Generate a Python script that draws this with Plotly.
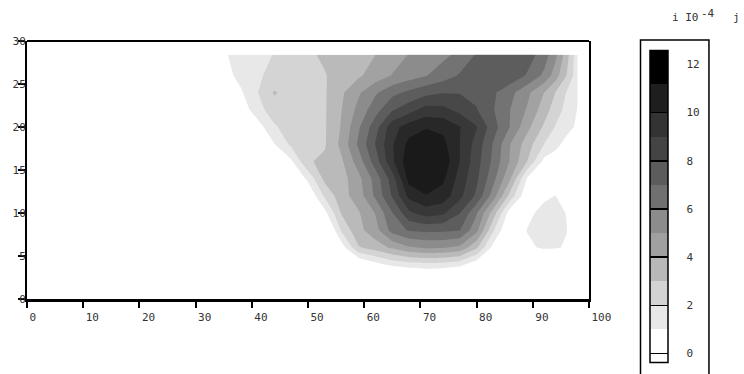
import plotly.graph_objects as go

# ---- data (values in units of 1e-4) ----
x_vals = [35, 38, 41, 44, 47, 50, 53, 56, 59, 62, 65, 68, 71, 74, 77, 80, 83, 86, 89, 92, 94, 96, 98]
y_vals = [3, 4, 6, 8, 10, 12, 14, 16, 18, 20, 22, 24, 26, 28.4]

z_y3 = [-1, -1, -1, -1, -1, -1, -1, -1, -1, -1, -0.4, 0.1, 0.3, 0.2, 0.0, -0.5, -1, -1, -1, -1, -1, -1, -1]
z_y4 = [-1, -1, -1, -1, -1, -1, -1, -1, -0.2, 0.6, 1.3, 1.55, 1.7, 1.6, 1.3, 0.3, -0.5, -1, -1, -1, -1, -1, -1]
z_y6 = [-1, -1, -1, -1, -1, -1, -1, 0.5, 2.9, 3.5, 4.2, 4.9, 5.15, 5.1, 4.8, 3.2, 0.6, -0.5, 0.75, 1.2, 1.15, 0.85, 0]
z_y8 = [-1, -1, -1, -1, -1, -1, -0.8, 2.2, 3.7, 4.6, 6.4, 7.1, 7.25, 7.2, 7.05, 5.3, 2.1, -0.3, 1.05, 1.6, 1.55, 1.05, 0]
z_y10 = [-1, -1, -1, -1, -1, -0.5, 0.7, 3.1, 3.9, 5.05, 6.95, 8.8, 9.45, 9.2, 8.05, 6.1, 3.5, 0.4, 0.6, 1.5, 1.5, 0.95, 0]
z_y12 = [-1, -1, -1, -1, -1, 0.0, 2.2, 3.6, 4.5, 6.2, 8.1, 10.3, 10.95, 10.6, 9.3, 7.8, 5.5, 2.6, 0.2, 0.7, 1.02, 0.5, 0]
z_y14 = [-1, -1, -1, -1, -0.3, 1.25, 3.3, 3.6, 4.7, 6.4, 8.5, 11.4, 11.9, 11.2, 9.6, 8.2, 6.3, 4.1, 0.9, 0.2, 0.2, 0.1, 0]
z_y16 = [-1, -1, -1, -1, 0.8, 2.9, 3.2, 3.85, 5.5, 7.5, 9.8, 11.7, 12.3, 11.7, 10.0, 8.4, 6.75, 4.9, 3.0, 0.7, 0.3, 0.2, 0.1]
z_y18 = [-1, -1, -1, 0.95, 2.2, 2.7, 2.9, 4.3, 6.2, 8.05, 9.9, 11.3, 11.9, 11.3, 10.0, 8.6, 6.9, 5.0, 3.5, 2.0, 1.4, 0.6, 0.4]
z_y20 = [-1, -1, 0.5, 1.85, 2.55, 2.8, 2.9, 4.1, 5.85, 7.6, 9.6, 10.5, 10.9, 10.75, 10.05, 9.05, 7.4, 5.95, 4.3, 2.85, 1.95, 1.4, 0.8]
z_y22 = [-1, 0.3, 1.6, 2.55, 2.65, 2.8, 2.9, 4.0, 5.3, 6.6, 7.9, 8.6, 9.4, 9.3, 8.7, 8.05, 7.05, 6.0, 4.9, 3.5, 2.5, 1.7, 0.95]
z_y24 = [0.2, 0.85, 1.95, 3.1, 2.6, 2.75, 2.9, 3.85, 4.85, 5.85, 6.7, 7.25, 7.7, 7.95, 7.95, 7.8, 7.15, 6.3, 5.25, 4.0, 3.0, 1.95, 1.05]
z_y26 = [0.6, 1.3, 1.85, 2.3, 2.55, 2.75, 2.95, 3.35, 3.85, 4.45, 5.05, 5.5, 5.95, 6.5, 7.1, 7.6, 7.85, 7.7, 6.9, 5.8, 4.5, 3.0, 1.3]
z_y28 = [0.9, 1.3, 1.6, 2.05, 2.45, 2.85, 3.15, 3.45, 3.7, 4.0, 4.5, 5.05, 5.4, 5.75, 6.25, 7.1, 7.5, 7.8, 7.5, 6.5, 5.3, 3.5, 1.2]

z_rows = [z_y3, z_y4, z_y6, z_y8, z_y10, z_y12, z_y14, z_y16, z_y18, z_y20, z_y22, z_y24, z_y26, z_y28]

x_ticks = [0, 10, 20, 30, 40, 50, 60, 70, 80, 90, 100]
y_ticks = [0, 5, 10, 15, 20, 25, 30]
cb_ticks = [0, 2, 4, 6, 8, 10, 12]

# ---- styles ----
plot_cols = ['#ffffff', '#e8e8e8', '#d4d4d4', '#bababa', '#a2a2a2', '#8c8c8c',
             '#737373', '#5d5d5d', '#484848', '#383838', '#282828', '#1a1a1a']
plot_scale = []
for i, c in enumerate(plot_cols):
    plot_scale.append([i / 12, c])
    plot_scale.append([(i + 1) / 12, c])

cb_edges = [-0.35, 1, 2, 3, 4, 5, 6, 7, 8, 9, 10, 11.2, 12.6]
cb_cols = ['#ffffff', '#e8e8e8', '#d3d3d3', '#b8b8b8', '#a0a0a0', '#8c8c8c',
           '#707070', '#5c5c5c', '#444444', '#333333', '#1e1e1e', '#000000']
lo, hi = cb_edges[0], cb_edges[-1]
half = 0.035  # half-width of the black tick stripes inside the bar
stripes = cb_ticks[:-1]
pieces = []
for i, c in enumerate(cb_cols):
    a, b = cb_edges[i], cb_edges[i + 1]
    cur = a
    for s in stripes:
        s0, s1 = max(s - half, a), min(s + half, b)
        if s1 <= a or s0 >= b:
            continue
        if s0 > cur:
            pieces.append((cur, s0, c))
        pieces.append((s0, s1, '#000000'))
        cur = s1
    if cur < b:
        pieces.append((cur, b, c))
cb_scale = []
for p0, p1, c in pieces:
    cb_scale.append([(p0 - lo) / (hi - lo), c])
    cb_scale.append([(p1 - lo) / (hi - lo), c])
cb_scale[0][0] = 0.0
cb_scale[-1][0] = 1.0

FONT = 'DejaVu Sans Mono'
TXT = '#333333'

# plot area: x 27..589 px, y 41..299 px
PL, PW, PT, PH = 27, 562, 41, 258


def px_x(px):
    return (px - PL) / PW


def px_y(py):
    return (PT + PH - py) / PH


fig = go.Figure()
fig.add_trace(go.Contour(
    x=x_vals, y=y_vals, z=z_rows,
    zmin=0, zmax=12, zauto=False,
    colorscale=plot_scale,
    contours=dict(start=1, end=11, size=1, coloring='fill', showlines=False),
    line=dict(width=0, smoothing=0),
    showscale=False, hoverinfo='skip',
))

fig.add_trace(go.Scatter(
    x=[None], y=[None], mode='markers', showlegend=False, hoverinfo='skip',
    marker=dict(color=[0], colorscale=cb_scale, cmin=lo, cmax=hi, showscale=True,
                colorbar=dict(
                    x=px_x(641.5), xanchor='left',
                    y=px_y(39.5), yanchor='top',
                    lenmode='pixels', len=333,
                    thicknessmode='pixels', thickness=18,
                    xpad=8, ypad=10.5,
                    outlinecolor='black', outlinewidth=1.5,
                    bordercolor='black', borderwidth=1.5,
                    tickvals=cb_ticks, ticks='outside', ticklen=16,
                    tickwidth=1, tickcolor='rgba(0,0,0,0)',
                    tickfont=dict(family=FONT, size=11, color=TXT),
                )),
))

for txt, px, py in [('i I0', 670, 17), ('-4', 699, 13), ('j', 731, 17)]:
    fig.add_annotation(
        xref='paper', yref='paper', x=px_x(px), y=px_y(py),
        xanchor='left', yanchor='middle', showarrow=False, text=txt,
        font=dict(family=FONT, size=11, color=TXT),
    )

fig.update_layout(
    width=744, height=374,
    margin=dict(l=PL, r=744 - PL - PW, t=PT, b=374 - PT - PH),
    paper_bgcolor='white', plot_bgcolor='white',
    font=dict(family=FONT, size=11, color=TXT),
    showlegend=False,
    shapes=[dict(type='line', xref='paper', yref='paper', x0=0, x1=1, y0=1, y1=1,
                 line=dict(color='black', width=2))],
)
fig.update_xaxes(
    range=[0, 100], tickvals=x_ticks, ticks='outside', ticklen=6, tickwidth=2,
    tickcolor='black', showline=True, linewidth=3, linecolor='black',
    showgrid=False, zeroline=False, ticklabelposition='outside right',
    ticklabelstandoff=6,
    tickfont=dict(family=FONT, size=11, color=TXT),
)
fig.update_yaxes(
    range=[0, 30], tickvals=y_ticks, ticks='outside', ticklen=7, tickwidth=1.5,
    tickcolor='black', showline=True, linewidth=2, linecolor='black', mirror=True,
    showgrid=False, zeroline=False, ticklabelstandoff=-10,
    tickfont=dict(family=FONT, size=11, color=TXT),
)

fig.write_html('out.html', config={'displayModeBar': False})
